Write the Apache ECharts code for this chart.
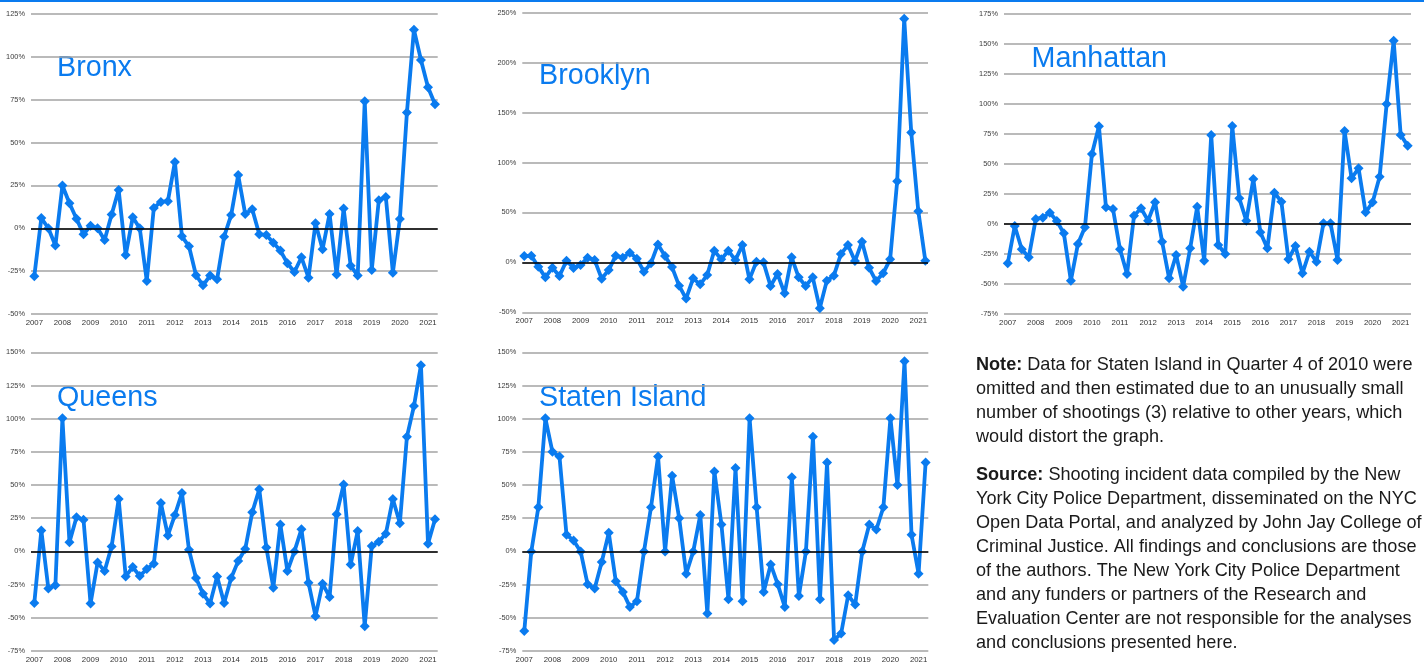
<!DOCTYPE html>
<html>
<head>
<meta charset="utf-8">
<script src="https://cdn.jsdelivr.net/npm/echarts@6/dist/echarts.min.js"></script>
<style>
html,body{margin:0;padding:0;background:#fff;}
#chart{width:1424px;height:664px;}
</style>
</head>
<body>
<div id="chart"></div>
<script>
// Tick labels (one per year, first quarter of each year)
const yearLabels = ['2007','2008','2009','2010','2011','2012','2013','2014','2015','2016','2017','2018','2019','2020','2021'];
const boroughs = ['Bronx','Brooklyn','Manhattan','Queens','Staten Island'];

// Quarterly % change values, 2007 Q1 .. 2021 Q2
const bronx = [-28,6,0,-10,25,14.6,5.6,-3.5,1.5,0,-6.8,8,22.4,-15.6,6.4,0,-30.7,11.9,15.4,15.8,38.7,-4.7,-10.5,-27.4,-33.3,-27.6,-29.8,-4.9,7.7,31.1,8.4,11.1,-3.5,-3.9,-8.4,-13,-20.4,-25.5,-16.9,-28.8,2.9,-12.3,8.4,-27,11.5,-21.8,-27.6,74.1,-24.3,16.3,18.3,-25.9,5.4,67.5,115.8,98.2,82.3,72.4];
const brooklyn = [6.3,6.7,-4.3,-15,-5.3,-13.7,1.7,-5.7,-2.7,4.7,2.3,-16.3,-7.7,6.7,4.7,9.7,3.7,-9.3,-1,18,6.3,-4.7,-23.3,-36.3,-16,-22,-12.7,11.7,3,11.7,2.3,17.3,-17,0.7,0,-23.7,-11.7,-31,5,-15,-23.7,-15,-46,-18.3,-13.3,8.3,17.3,1.3,20.7,-5.3,-18.7,-11,3,81.3,244,130,51.3,1.7];
const manhattan = [-32.8,-1.7,-21.1,-27.8,4.2,5.3,9.4,2.5,-7.8,-47.2,-16.7,-2.8,58.3,81.4,13.9,12.5,-21.1,-41.7,6.9,13.1,2.8,18.1,-14.7,-45.3,-25.8,-52.2,-20.3,14.4,-30.6,74.2,-17.5,-25,81.7,21.4,2.8,37.5,-6.9,-20.3,26.1,18.6,-29.4,-18.3,-41.1,-23.1,-31.4,0.6,0.6,-30,77.5,38.1,46.4,9.7,18.1,39.4,100,152.8,74.2,65.3];
const queens = [-38.8,15.8,-28,-25.5,100.3,7,25.8,23.8,-39.3,-8.3,-14.8,3.8,39.5,-18.8,-11.8,-18.5,-13.3,-9.3,36.5,12,27.5,44,1.3,-20,-31.8,-39.3,-18.8,-38.8,-20,-7.3,1.8,29.5,46.8,3,-27.3,20.3,-14.8,0,16.8,-23.5,-48.8,-24.3,-34.3,28,50.5,-9.8,15.3,-56.3,4,7.3,13.3,39.5,21.3,86.3,109.5,140.3,5.8,24.3];
const statenIsland = [-60,0,33.3,100.3,75,71.5,12.5,8.3,0,-24.8,-28,-8,14,-22.5,-30.5,-41.8,-37.5,0,33.3,71.5,0,57,25,-16.8,0,27.5,-46.8,60.3,20.3,-36,62.8,-37.5,100.3,33.3,-30.5,-9.8,-24.8,-41.8,55.8,-33.5,0,86.3,-36,67,-66.8,-61.8,-33,-40,0,20.3,16.5,33.3,100.3,50,143.3,12.5,-16.8,67];

const seriesValues = [bronx, brooklyn, manhattan, queens, statenIsland];
const yMin = [-50,-50,-75,-75,-75];
const yMax = [125,250,175,150,150];
const yStep = [25,50,25,25,25];

const BLUE = '#0a7bef';
const FONT = '"Liberation Sans", Arial, sans-serif';

const grids = [
  {left:31, top:14, width:406.7, height:300},
  {left:522.3, top:12.7, width:405.7, height:299.6},
  {left:1004, top:14, width:407, height:300},
  {left:31, top:352.3, width:406.7, height:300.4},
  {left:522.3, top:352.3, width:406, height:300.4}
];
const xRange = [[-0.47,57.38],[-0.28,57.38],[-0.53,57.47],[-0.47,57.38],[-0.28,57.38]];
const titlePos = [[57,68],[539,76],[1031.5,59.4],[57,398.4],[539,398.4]];

const tickIdx = yearLabels.map((_, k) => k * 4);

const xAxes = [], yAxes = [], series = [], gridOpts = [];
grids.forEach((g, k) => {
  gridOpts.push(Object.assign({containLabel:false}, g));
  xAxes.push({
    type:'value', gridIndex:k, min:xRange[k][0], max:xRange[k][1],
    axisLine:{show:false}, axisTick:{show:false}, splitLine:{show:false},
    axisLabel:{
      customValues: tickIdx, margin:5, fontSize:7.8, color:'#333', fontFamily:FONT,
      formatter: v => yearLabels[Math.round(v/4)]
    }
  });
  yAxes.push({
    type:'value', gridIndex:k, min:yMin[k], max:yMax[k], interval:yStep[k],
    axisLine:{show:false}, axisTick:{show:false},
    axisLabel:{formatter:'{value}%', fontSize:7.4, color:'#3c3c3c', margin:6, fontFamily:FONT},
    splitLine:{show:true, lineStyle:{color:'#a3a3a3', width:1.5}}
  });
  series.push({
    type:'line', xAxisIndex:k, yAxisIndex:k, z:1, data:[], silent:true,
    markLine:{silent:true, symbol:'none', animation:false, label:{show:false},
      lineStyle:{color:'#000', width:1.7, type:'solid'}, data:[{yAxis:0}]}
  });
  series.push({
    name: boroughs[k], type:'line', xAxisIndex:k, yAxisIndex:k, z:3,
    data: seriesValues[k].map((v, i) => [i, v]),
    symbol:'diamond', symbolSize:10, showAllSymbol:true,
    lineStyle:{color:BLUE, width:3.8}, itemStyle:{color:BLUE}
  });
});

const graphics = [
  {type:'rect', shape:{x:0, y:0, width:1424, height:2}, style:{fill:BLUE}}
];
boroughs.forEach((b, k) => {
  graphics.push({type:'text', x:titlePos[k][0], y:titlePos[k][1],
    style:{text:b, fill:BLUE, fontSize:28.7, fontFamily:FONT, verticalAlign:'middle', align:'left'}});
});
const noteText = '{b|Note:} Data for Staten Island in Quarter 4 of 2010 were\nomitted and then estimated due to an unusually small\nnumber of shootings (3) relative to other years, which\nwould distort the graph.';
const sourceText = '{b|Source:} Shooting incident data compiled by the New\nYork City Police Department, disseminated on the NYC\nOpen Data Portal, and analyzed by John Jay College of\nCriminal Justice. All findings and conclusions are those\nof the authors. The New York City Police Department\nand any funders or partners of the Research and\nEvaluation Center are not responsible for the analyses\nand conclusions presented here.';
const TXT = 18.1;
const richStyle = {b:{fontWeight:'bold', fontSize:TXT, lineHeight:24, fontFamily:FONT, fill:'#1a1a1a'}};
graphics.push({type:'text', x:976, y:353.4, style:{text:noteText, rich:richStyle, fontSize:TXT, lineHeight:24, fontFamily:FONT, fill:'#1a1a1a', verticalAlign:'top'}});
graphics.push({type:'text', x:976, y:462.7, style:{text:sourceText, rich:richStyle, fontSize:TXT, lineHeight:24, fontFamily:FONT, fill:'#1a1a1a', verticalAlign:'top'}});

const chart = echarts.init(document.getElementById('chart'), null, {renderer:'canvas'});
chart.setOption({
  animation:false,
  backgroundColor:'#fff',
  grid: gridOpts,
  xAxis: xAxes,
  yAxis: yAxes,
  series: series,
  graphic: graphics
});
</script>
</body>
</html>
